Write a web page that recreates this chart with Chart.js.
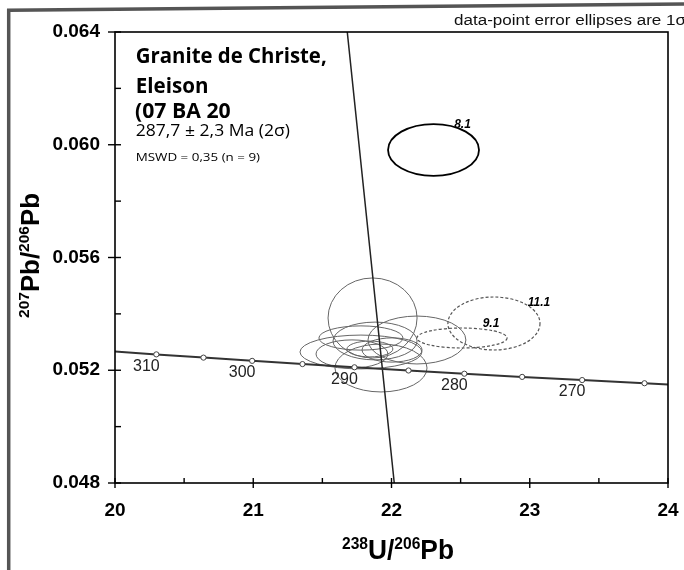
<!DOCTYPE html>
<html>
<head>
<meta charset="utf-8">
<script src="https://cdn.jsdelivr.net/npm/chart.js@4/dist/chart.umd.min.js"></script>
<style>
  html, body { margin: 0; padding: 0; background: #fff; }
  canvas { display: block; }
</style>
</head>
<body>
<canvas id="c" width="684" height="570"></canvas>
<script>
// ---- Tera-Wasserburg concordia: age marks (Ma) and coordinates ----
const concordiaAges = [310, 305, 300, 295, 290, 285, 280, 275, 270, 265];
const concordiaX = [20.299, 20.640, 20.992, 21.356, 21.732, 22.123, 22.527, 22.945, 23.379, 23.830];
const concordiaY = [0.052563, 0.052448, 0.052333, 0.052219, 0.052105, 0.051991, 0.051877, 0.051764, 0.051652, 0.051539];
const labelledAges = [310, 300, 290, 280, 270];
// concordia trace continued to the plot edges
const concordiaEndX = [20.0, 24.0];
const concordiaEndY = [0.052668, 0.051497];

// ---- regression line through the analyses ----
const discordiaX = [21.68, 22.02];
const discordiaY = [0.064, 0.048];

// ---- zircon spots: centre and 1-sigma half-widths ----
const spotIds  = ['', '', '', '', '', '', '', '', '', '8.1', '9.1', '11.1'];
const spotX    = [21.863, 22.184, 21.924, 21.779, 21.779, 21.881, 21.844, 21.714, 22.004, 22.304, 22.510, 22.741];
const spotY    = [0.053854, 0.053073, 0.052080, 0.052648, 0.053144, 0.053038, 0.052754, 0.052577, 0.052719, 0.059814, 0.053144, 0.053659];
const spotSx   = [0.322, 0.354, 0.333, 0.441, 0.304, 0.304, 0.166, 0.260, 0.217, 0.329, 0.326, 0.333];
const spotSy   = [0.00142, 0.00085, 0.00085, 0.00060, 0.00043, 0.00067, 0.00028, 0.00050, 0.00043, 0.00092, 0.000355, 0.00094];
const spotGroup = ['used', 'used', 'used', 'used', 'used', 'used', 'used', 'used', 'used', 'old', 'excluded', 'excluded'];

// ---- axis ticks ----
const xTickValues = [20, 21, 22, 23, 24];
const xTickLabels = ['20', '21', '22', '23', '24'];
const yTickValues = [0.048, 0.052, 0.056, 0.060, 0.064];
const yTickLabels = ['0.048', '0.052', '0.056', '0.060', '0.064'];

// ---- texts ----
const sampleLines = ['Granite de Christe,', 'Eleison', '(07 BA 20', '287,7 ± 2,3 Ma (2σ)', 'MSWD = 0,35 (n = 9)'];
const ellipseNote = 'data-point error ellipses are 1σ';
const xTitleParts = [['238', true], ['U/', false], ['206', true], ['Pb', false]];
const yTitleParts = [['207', true], ['Pb/', false], ['206', true], ['Pb', false]];

function findLabel(values, labels, v) {
  for (let i = 0; i < values.length; i++) {
    if (Math.abs(values[i] - v) < 1e-9) return labels[i];
  }
  return '';
}

// concordia points ordered along x, with unmarked edge points
const concordiaPoints = [{ x: concordiaEndX[0], y: concordiaEndY[0] }]
  .concat(concordiaX.map((x, i) => ({ x, y: concordiaY[i] })))
  .concat([{ x: concordiaEndX[1], y: concordiaEndY[1] }]);
const concordiaRadius = concordiaPoints.map((p, i) => (i === 0 || i === concordiaPoints.length - 1) ? 0 : 2.6);

// text drawn at a given width (scaled horizontally)
function fitText(ctx, str, x, y, font, width) {
  ctx.save();
  ctx.font = font;
  ctx.textAlign = 'left';
  ctx.textBaseline = 'alphabetic';
  const w = ctx.measureText(str).width;
  ctx.translate(x, y);
  ctx.scale(width / w, 1);
  ctx.fillText(str, 0, 0);
  ctx.restore();
}

// isotope-ratio title with superscript mass numbers
function drawRatioTitle(ctx, parts, cx, baseline, mainFont, supFont, width) {
  ctx.save();
  let total = 0;
  parts.forEach(([t, sup]) => { ctx.font = sup ? supFont : mainFont; total += ctx.measureText(t).width; });
  const k = width / total;
  ctx.translate(cx, baseline);
  ctx.scale(k, 1);
  let x = -total / 2;
  ctx.textBaseline = 'alphabetic';
  ctx.textAlign = 'left';
  parts.forEach(([t, sup]) => {
    ctx.font = sup ? supFont : mainFont;
    ctx.fillText(t, x, sup ? -10 : 0);
    x += ctx.measureText(t).width;
  });
  ctx.restore();
}

const labelOffsets = { '8.1': [29, -25], '9.1': [29, -14.5], '11.1': [45, -21] };

const diagramDecor = {
  id: 'diagramDecor',
  beforeDatasetsDraw(chart) {
    const { ctx, chartArea: ca } = chart;
    const xs = chart.scales.x, ys = chart.scales.y;
    ctx.save();
    ctx.beginPath();
    ctx.rect(ca.left, ca.top, ca.right - ca.left, ca.bottom - ca.top);
    ctx.clip();
    spotX.forEach((cx, i) => {
      const px = xs.getPixelForValue(cx);
      const py = ys.getPixelForValue(spotY[i]);
      const rx = Math.abs(xs.getPixelForValue(cx + spotSx[i]) - px);
      const ry = Math.abs(ys.getPixelForValue(spotY[i] + spotSy[i]) - py);
      ctx.beginPath();
      ctx.ellipse(px, py, rx, ry, 0, 0, Math.PI * 2);
      if (spotGroup[i] === 'old') {
        ctx.setLineDash([]); ctx.strokeStyle = '#000'; ctx.lineWidth = 1.8;
      } else if (spotGroup[i] === 'excluded') {
        ctx.setLineDash([3, 2]); ctx.strokeStyle = '#555'; ctx.lineWidth = 1.2;
      } else {
        ctx.setLineDash([]); ctx.strokeStyle = '#666'; ctx.lineWidth = 1;
      }
      ctx.stroke();
    });
    ctx.restore();
  },
  afterDatasetsDraw(chart) {
    const { ctx, chartArea: ca } = chart;
    const xs = chart.scales.x, ys = chart.scales.y;
    ctx.save();
    // plot box
    ctx.strokeStyle = '#000';
    ctx.lineWidth = 1.6;
    ctx.strokeRect(ca.left, ca.top, ca.right - ca.left, ca.bottom - ca.top);
    // tick marks: major ones cross the axis, minor ones point inward
    ctx.lineWidth = 1.4;
    xs.ticks.forEach(t => {
      const p = xs.getPixelForValue(t.value);
      const major = findLabel(xTickValues, xTickLabels, t.value) !== '';
      ctx.beginPath();
      ctx.moveTo(p, ca.bottom - 5);
      ctx.lineTo(p, ca.bottom + (major ? 5 : 0));
      ctx.stroke();
    });
    ys.ticks.forEach(t => {
      const p = ys.getPixelForValue(t.value);
      const major = findLabel(yTickValues, yTickLabels, t.value) !== '';
      ctx.beginPath();
      ctx.moveTo(ca.left + 6, p);
      ctx.lineTo(ca.left - (major ? 7 : 0), p);
      ctx.stroke();
    });
    // age labels along the concordia
    ctx.fillStyle = '#222';
    ctx.font = '16px "Liberation Sans", Arial, sans-serif';
    ctx.textAlign = 'center';
    ctx.textBaseline = 'middle';
    concordiaAges.forEach((age, i) => {
      if (!labelledAges.includes(age)) return;
      const px = xs.getPixelForValue(concordiaX[i]);
      const py = ys.getPixelForValue(concordiaY[i]);
      ctx.fillText(String(age), px - 10, py + 12);
    });
    // spot numbers
    ctx.fillStyle = '#000';
    ctx.font = 'italic bold 12px "Liberation Sans", Arial, sans-serif';
    spotIds.forEach((id, i) => {
      if (!id) return;
      const off = labelOffsets[id];
      const px = xs.getPixelForValue(spotX[i]);
      const py = ys.getPixelForValue(spotY[i]);
      ctx.fillText(id, px + off[0], py + off[1]);
    });
    ctx.restore();
  },
  afterDraw(chart) {
    const { ctx } = chart;
    ctx.save();
    ctx.fillStyle = '#000';
    // sample caption
    fitText(ctx, sampleLines[0], 135.7, 63, 'bold 21px "Open Sans"', 191);
    fitText(ctx, sampleLines[1], 135.7, 93, 'bold 21px "Open Sans"', 72.7);
    fitText(ctx, sampleLines[2], 135, 118, 'bold 21px "Open Sans"', 95.7);
    fitText(ctx, sampleLines[3], 135.7, 136, '16.5px "Open Sans"', 154.3);
    fitText(ctx, sampleLines[4], 135.7, 161, '11px "Open Sans"', 124.3);
    // note in the top-right corner
    ctx.fillStyle = '#111';
    fitText(ctx, ellipseNote, 454, 25, '14px "Liberation Sans", Arial, sans-serif', 232);
    // axis titles
    ctx.fillStyle = '#000';
    drawRatioTitle(ctx, xTitleParts, 398, 559,
      'bold 27px "Liberation Sans", Arial, sans-serif',
      'bold 16px "Liberation Sans", Arial, sans-serif', 112);
    ctx.save();
    ctx.translate(39, 255.5);
    ctx.rotate(-Math.PI / 2);
    drawRatioTitle(ctx, yTitleParts, 0, 0,
      'bold 25px "Liberation Sans", Arial, sans-serif',
      'bold 15px "Liberation Sans", Arial, sans-serif', 125);
    ctx.restore();
    // outer frame of the figure
    ctx.strokeStyle = '#555';
    ctx.lineWidth = 3.5;
    ctx.beginPath();
    ctx.moveTo(8.7, 570);
    ctx.lineTo(8.7, 10.3);
    ctx.lineTo(684, 4);
    ctx.stroke();
    ctx.restore();
  }
};

const tickFont = { family: '"Liberation Sans", Arial, sans-serif', size: 19, weight: 'bold' };

new Chart(document.getElementById('c'), {
  type: 'scatter',
  data: {
    datasets: [
      {
        label: 'concordia',
        data: concordiaPoints,
        showLine: true,
        borderColor: '#333',
        borderWidth: 2,
        pointRadius: concordiaRadius,
        pointBackgroundColor: '#fff',
        pointBorderColor: '#444',
        pointBorderWidth: 1,
        tension: 0
      },
      {
        label: 'regression',
        data: discordiaX.map((x, i) => ({ x, y: discordiaY[i] })),
        showLine: true,
        borderColor: '#222',
        borderWidth: 1.5,
        pointRadius: 0,
        tension: 0
      }
    ]
  },
  options: {
    responsive: false,
    animation: false,
    devicePixelRatio: 1,
    layout: { padding: { left: 0, right: 16, top: 32, bottom: 0 } },
    plugins: { legend: { display: false }, tooltip: { enabled: false }, title: { display: false } },
    scales: {
      x: {
        type: 'linear',
        position: 'bottom',
        min: 20, max: 24,
        afterFit(scale) {
          scale.height = 87;
          scale.paddingLeft = 0;
          scale.paddingRight = 0;
        },
        grid: { display: false, drawTicks: false },
        border: { display: false },
        ticks: {
          stepSize: 0.5,
          autoSkip: false,
          maxRotation: 0,
          padding: 16,
          color: '#000',
          font: tickFont,
          callback: v => findLabel(xTickValues, xTickLabels, v)
        }
      },
      y: {
        type: 'linear',
        position: 'left',
        min: 0.048, max: 0.064,
        afterFit(scale) {
          scale.width = 115;
          scale.paddingTop = 0;
          scale.paddingBottom = 0;
        },
        grid: { display: false, drawTicks: false },
        border: { display: false },
        ticks: {
          stepSize: 0.002,
          autoSkip: false,
          padding: 15,
          color: '#000',
          font: tickFont,
          callback: v => findLabel(yTickValues, yTickLabels, v)
        }
      }
    }
  },
  plugins: [diagramDecor]
});
</script>
</body>
</html>
